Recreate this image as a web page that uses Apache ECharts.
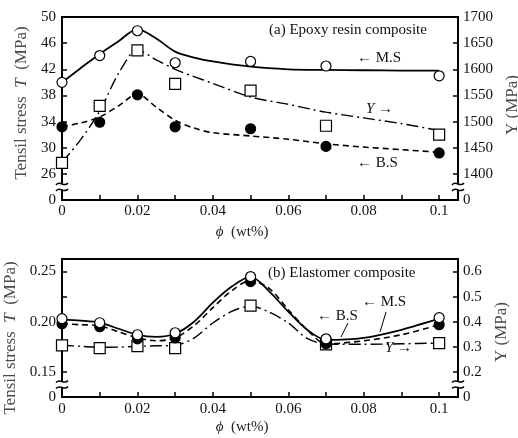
<!DOCTYPE html>
<html><head><meta charset="utf-8">
<script src="https://cdn.jsdelivr.net/npm/echarts@6/dist/echarts.min.js"></script>
<style>html,body{margin:0;padding:0;background:#fff}#c{width:518px;height:438px}</style>
</head><body><div id="c"></div>
<script>
// ---- data ----
const phi = [0, 0.01, 0.02, 0.03, 0.05, 0.07, 0.1];
// (a) Epoxy resin composite
const epoxyMS = [40.0, 44.1, 47.9, 43.0, 43.2, 42.5, 41.0];
const epoxyBS = [33.2, 33.9, 38.1, 33.2, 32.9, 30.2, 29.2];
const epoxyY  = [1421, 1530, 1636, 1572, 1559, 1492, 1475];
// fitted curves
const fitPhiA   = [0, 0.005, 0.01, 0.015, 0.02, 0.025, 0.03, 0.035, 0.04, 0.05, 0.06, 0.07, 0.08, 0.09, 0.1];
const epoxyMSfit = [40.0, 42.2, 44.35, 46.3, 48.15, 46.7, 44.7, 43.8, 43.2, 42.4, 42.0, 41.9, 41.85, 41.8, 41.8];
const epoxyBSfit = [33.2, 33.8, 34.7, 36.4, 38.2, 36.2, 34.2, 33.0, 32.3, 31.8, 31.3, 30.6, 30.1, 29.7, 29.3];
const epoxyYfit  = [1422, 1466, 1520, 1592, 1637, 1618, 1600, 1586, 1573, 1547, 1533, 1518, 1507, 1496, 1483];
// (b) Elastomer composite
const elastMS = [0.203, 0.199, 0.187, 0.189, 0.245, 0.183, 0.204];
const elastBS = [0.198, 0.195, 0.183, 0.184, 0.240, 0.178, 0.197];
const elastY  = [0.306, 0.295, 0.303, 0.295, 0.464, 0.310, 0.315];
const fitPhiB   = [0, 0.005, 0.01, 0.015, 0.02, 0.025, 0.03, 0.035, 0.04, 0.045, 0.05, 0.055, 0.06, 0.065, 0.07, 0.08, 0.09, 0.1];
const elastMSfit = [0.202, 0.201, 0.199, 0.193, 0.187, 0.185, 0.188, 0.200, 0.219, 0.235, 0.245, 0.230, 0.210, 0.192, 0.182, 0.184, 0.192, 0.203];
const elastBSfit = [0.198, 0.197, 0.196, 0.190, 0.184, 0.181, 0.184, 0.196, 0.214, 0.231, 0.241, 0.233, 0.212, 0.192, 0.178, 0.181, 0.187, 0.197];
const elastYfit  = [0.306, 0.302, 0.298, 0.299, 0.302, 0.304, 0.306, 0.335, 0.395, 0.441, 0.462, 0.438, 0.395, 0.334, 0.311, 0.310, 0.312, 0.315];
// ticks / labels
const xTicks  = [0, 0.01, 0.02, 0.03, 0.04, 0.05, 0.06, 0.07, 0.08, 0.09, 0.1];
const xLabels = [0, 0.02, 0.04, 0.06, 0.08, 0.1];
const tTicksA  = [26, 30, 34, 38, 42, 46, 50];
const tLabelsA = [22, 26, 30, 34, 38, 42, 46, 50];      // 22 shown as "0" (broken axis)
const yTicksA  = [1400, 1450, 1500, 1550, 1600, 1650, 1700];
const yLabelsA = [1350, 1400, 1450, 1500, 1550, 1600, 1650, 1700]; // 1350 shown as "0"
const tTicksB  = [0.15, 0.175, 0.2, 0.225, 0.25];
const tLabelsB = [0.125, 0.15, 0.2, 0.25];              // 0.125 shown as "0"
const yTicksB  = [0.2, 0.3, 0.4, 0.5, 0.6];
const yLabelsB = [0.1, 0.2, 0.3, 0.4, 0.5, 0.6];        // 0.1 shown as "0"

// ---- chart ----
const FONT = '"Liberation Serif", "Times New Roman", serif';
const pairs = (xa, ya) => xa.map((x, i) => [x, ya[i]]);
const chart = echarts.init(document.getElementById('c'), null, {renderer: 'canvas'});

function xAxisCfg(grid, gap) {
  return {
    gridIndex: grid, type: 'value', min: 0, max: 0.105,
    axisLine: {show: true, onZero: false, lineStyle: {color: '#000', width: 2}},
    axisTick: {show: true, inside: true, length: 5, customValues: xTicks, lineStyle: {color: '#000', width: 1.5}},
    axisLabel: {customValues: xLabels, margin: grid === 0 ? 4 : 5, color: '#111', fontFamily: FONT, fontSize: 15,
      formatter: v => String(+v.toFixed(2))},
    splitLine: {show: false},
    name: '{i|ϕ}  (wt%)', nameLocation: 'middle', nameGap: gap,
    nameTextStyle: {color: '#222', fontFamily: FONT, fontSize: 15, padding: [0, 36, 0, 0],
      rich: {i: {fontStyle: 'italic', fontFamily: FONT, fontSize: 15, color: '#222'}}}
  };
}
function yAxisCfg(grid, pos, min, max, ticks, labels, fmt, name, gap, pad, margin) {
  return {
    gridIndex: grid, type: 'value', position: pos, min: min, max: max,
    axisLine: {show: true, onZero: false, lineStyle: {color: '#000', width: 2}},
    axisTick: {show: true, inside: true, length: 5, customValues: ticks, lineStyle: {color: '#000', width: 1.5}},
    axisLabel: {customValues: labels, margin: margin, color: '#111', fontFamily: FONT, fontSize: 15, formatter: fmt},
    splitLine: {show: false},
    name: name, nameLocation: 'middle', nameGap: gap, nameRotate: 90,
    nameTextStyle: {color: '#4a4a4a', fontFamily: FONT, fontSize: 17, padding: pad,
      rich: {i: {fontStyle: 'italic', fontFamily: FONT, fontSize: 17, color: '#4a4a4a'}}}
  };
}

const lineS = (xi, yi, xa, ya, type, w) => ({
  type: 'line', xAxisIndex: xi, yAxisIndex: yi, data: pairs(xa, ya),
  smooth: 0.3, symbol: 'none', silent: true, z: 2,
  lineStyle: {color: '#000', width: w, type: type}
});
const scat = (xi, yi, ya, symbol, size, fill, z) => ({
  type: 'scatter', xAxisIndex: xi, yAxisIndex: yi, data: pairs(phi, ya),
  symbol: symbol, symbolSize: size, silent: true, z: z,
  itemStyle: {color: fill, borderColor: '#000', borderWidth: 1.2, opacity: 1}
});

chart.setOption({
  animation: false,
  backgroundColor: '#fff',
  grid: [
    {left: 62, right: 60, top: 17, height: 183, show: true, borderColor: '#000', borderWidth: 2,
      backgroundColor: 'transparent', containLabel: false, outerBoundsMode: 'none'},
    {left: 62, right: 60, top: 259, height: 138, show: true, borderColor: '#000', borderWidth: 2,
      backgroundColor: 'transparent', containLabel: false, outerBoundsMode: 'none'}
  ],
  xAxis: [xAxisCfg(0, 25), xAxisCfg(1, 23)],
  yAxis: [
    yAxisCfg(0, 'left', 22, 50, tTicksA, tLabelsA, v => v === 22 ? '0' : String(v),
      'Tensil stress  {i|T}  (MPa)', 27, [0, 0, 0, 11], 6),
    yAxisCfg(0, 'right', 1350, 1700, yTicksA, yLabelsA, v => v === 1350 ? '0' : String(v),
      'Y (MPa)', 46, [0, 0, 0, 7], 5),
    yAxisCfg(1, 'left', 0.125, 0.2625, tTicksB, tLabelsB, v => v === 0.125 ? '0' : v.toFixed(2),
      'Tensil stress  {i|T}  (MPa)', 36, [0, 20, 0, 0], 6),
    yAxisCfg(1, 'right', 0.1, 0.65, yTicksB, yLabelsB, v => v === 0.1 ? '0' : v.toFixed(1),
      'Y (MPa)', 31, [0, 8, 0, 0], 5)
  ],
  series: [
    lineS(0, 0, fitPhiA, epoxyMSfit, 'solid', 1.8),
    lineS(0, 0, fitPhiA, epoxyBSfit, [6, 4], 1.6),
    lineS(0, 1, fitPhiA, epoxyYfit, [12, 4, 2, 4], 1.4),
    scat(0, 0, epoxyBS, 'circle', 10, '#000', 5),
    scat(0, 0, epoxyMS, 'circle', 10, '#fff', 6),
    scat(0, 1, epoxyY, 'rect', 11, '#fff', 6),
    lineS(1, 2, fitPhiB, elastMSfit, 'solid', 1.8),
    lineS(1, 2, fitPhiB, elastBSfit, [6, 4], 1.6),
    lineS(1, 3, fitPhiB, elastYfit, [12, 4, 2, 4], 1.4),
    scat(1, 3, elastY, 'rect', 11, '#fff', 5),
    scat(1, 2, elastBS, 'circle', 10, '#000', 6),
    scat(1, 2, elastMS, 'circle', 10, '#fff', 7)
  ]
});

// ---- annotations (break marks, labels) ----
function breakMark(x, y) {
  return [
    {type: 'rect', shape: {x: x - 7, y: y - 3, width: 14, height: 6}, style: {fill: '#fff'}, z: 100},
    {type: 'bezierCurve', shape: {x1: x - 6, y1: y - 2, cpx1: x - 2, cpy1: y - 7, cpx2: x + 2, cpy2: y + 1, x2: x + 6, y2: y - 4},
      style: {stroke: '#000', lineWidth: 1.5, fill: null}, z: 101},
    {type: 'bezierCurve', shape: {x1: x - 6, y1: y + 4, cpx1: x - 2, cpy1: y - 1, cpx2: x + 2, cpy2: y + 7, x2: x + 6, y2: y + 2},
      style: {stroke: '#000', lineWidth: 1.5, fill: null}, z: 101}
  ];
}
const txt = (x, y, text, align) => ({
  type: 'text', x: x, y: y, z: 50,
  style: {text: text, fill: '#111', font: '15px ' + FONT, align: align || 'left', verticalAlign: 'middle',
    rich: {i: {fontStyle: 'italic', fontFamily: FONT, fontSize: 15, fill: '#111'}}}
});
const xL0 = chart.convertToPixel({xAxisIndex: 0}, 0);
const xR0 = chart.convertToPixel({xAxisIndex: 0}, 0.105);
const yBrA = chart.convertToPixel({yAxisIndex: 0}, 24);
const yBrB = chart.convertToPixel({yAxisIndex: 2}, 0.1375);
const g = [].concat(
  breakMark(xL0, yBrA), breakMark(xR0, yBrA), breakMark(xL0, yBrB), breakMark(xR0, yBrB),
  [
    txt(269, 30, '(a) Epoxy resin composite'),
    txt(357, 58, '← M.S'),
    txt(366, 109, '{i|Y} →'),
    txt(357, 163, '← B.S'),
    txt(268, 273, '(b) Elastomer composite'),
    txt(362, 302, '← M.S'),
    txt(317, 316, '← B.S'),
    txt(385, 348, '{i|Y} →'),
    {type: 'line', shape: {x1: 386, y1: 312, x2: 380, y2: 332}, style: {stroke: '#000', lineWidth: 1}, z: 50},
    {type: 'line', shape: {x1: 348, y1: 323, x2: 341, y2: 337}, style: {stroke: '#000', lineWidth: 1}, z: 50}
  ]
);
chart.setOption({graphic: g});
</script></body></html>
